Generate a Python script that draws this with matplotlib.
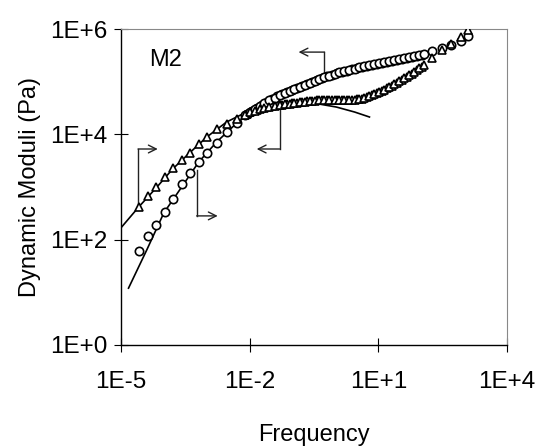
import numpy as np
import matplotlib
matplotlib.use("Agg")
import matplotlib.pyplot as plt

plt.rcParams['font.family'] = ['Liberation Sans', 'DejaVu Sans']

# shared frequencies of the measured points (first set)
freq = [2.6e-5, 4.2e-5, 6.5e-5, 1.05e-4, 1.6e-4, 2.6e-4, 4.0e-4, 6.5e-4, 1.0e-3,
        1.7e-3, 2.9e-3, 5.0e-3,
        7.7e-3, 1.0e-2, 1.3e-2, 1.7e-2, 2.2e-2, 2.9e-2, 3.8e-2, 5.0e-2, 6.5e-2,
        8.5e-2, 0.11, 0.15, 0.19, 0.25, 0.33, 0.42, 0.55, 0.72, 0.95, 1.24, 1.6,
        2.1, 2.8, 3.6, 4.7, 6.2, 8.1, 10.5, 13.8, 18, 23.5, 31, 40, 53, 69, 90,
        117, 180, 308, 500, 850, 1240]

# storage modulus G' (circles)
g_storage = [61, 118, 191, 337, 594, 1150, 1850, 2990, 4440, 6870, 11100, 16400,
             23300, 26600, 30300, 34600, 39400, 45000, 50100, 56000, 61100,
             66700, 72700, 79300, 86500, 94400, 103000, 112000, 123000, 131000,
             140000, 150000, 160000, 167000, 178000, 190000, 199000, 207000,
             217000, 226000, 237000, 247000, 258000, 270000, 282000, 294000,
             307000, 321000, 336000, 383000, 436000, 497000, 592000, 736000]

# loss modulus G'' (triangles)
g_loss = [419, 678, 1000, 1550, 2290, 3240, 4470, 6610, 8910, 12600, 15800, 19500,
          23300, 26600, 28400, 30300, 32400, 33800, 35300, 36100, 37700, 38600,
          39400, 41200, 42100, 43000, 44000, 45000, 45000, 45000, 45000, 45000,
          45000, 45000, 45900, 47000, 49100, 53600, 58400, 63800, 71100, 79300,
          90400, 103000, 117000, 134000, 153000, 182000, 207000, 282000, 400000,
          519000, 705000, 958000]

# overlapping second set in the middle of the master curve
freq_b = [8.75e-3, 0.0114, 0.0150, 0.0195, 0.0255, 0.0334, 0.0436, 0.0570,
          0.0745, 0.0974, 0.127, 0.166, 0.218, 0.284, 0.372, 0.486, 0.635,
          0.830, 1.08, 1.42, 1.85, 2.42, 3.16, 4.14, 5.41, 7.06, 9.23, 12.1,
          15.8, 20.6, 26.9, 35.2, 46.0, 60.2, 78.6, 103]
g_storage_b = [24900, 28400, 32400, 36900, 42100, 47500, 53000, 58500, 63800,
               69600, 75900, 82800, 90400, 98600, 107000, 117000, 127000,
               135000, 145000, 155000, 163000, 172000, 184000, 194000, 203000,
               212000, 221000, 231000, 242000, 252000, 264000, 276000, 288000,
               300000, 314000, 328000]
g_loss_b = [24900, 27500, 29300, 31300, 33100, 34500, 35700, 36900, 38100,
            39000, 40300, 41600, 42500, 43500, 44500, 45000, 45000, 45000,
            45000, 45000, 45000, 45400, 46400, 48000, 51300, 55900, 61000,
            67300, 75100, 84700, 96500, 110000, 125000, 143000, 167000, 194000]

# model curves
fit_storage_f = [1.5e-5, 4.0e-5, 1.0e-4, 2.6e-4, 6.5e-4, 1.7e-3, 5.0e-3, 0.017,
                 0.05, 0.145, 0.42, 1.6, 6.2]
fit_storage = [12, 64, 323, 1000, 2990, 7180, 16400, 34600, 56000, 79300,
               112000, 160000, 207000]
fit_loss_f = [1e-5, 2.6e-5, 6.9e-5, 1.6e-4, 4.0e-4, 1.0e-3, 2.9e-3, 8.5e-3,
              0.025, 0.072, 0.19, 0.42, 1.05, 2.8, 6.2]
fit_loss = [168, 419, 1000, 2200, 4470, 8910, 17200, 26600, 34600, 39400,
            40300, 37700, 33100, 26600, 21400]

# bracket arrows: (start, corner, arrow tip)
brackets = [
    [(2.5e-5, 457), (2.5e-5, 5280), (7.2e-5, 5280)],
    [(5.8e-4, 2110), (5.8e-4, 283), (1.8e-3, 283)],
    [(0.05, 29000), (0.05, 5280), (0.0146, 5280)],
    [(0.555, 134000), (0.555, 366000), (0.138, 366000)],
]

x_ticks = [1e-5, 1e-2, 1e1, 1e4]
x_labels = ['1E-5', '1E-2', '1E+1', '1E+4']
y_ticks = [1e0, 1e2, 1e4, 1e6]
y_labels = ['1E+0', '1E+2', '1E+4', '1E+6']

fig = plt.figure(figsize=(5.4, 4.48), dpi=100)
ax = fig.add_axes([0.224, 0.23, 0.715, 0.705])

ax.plot(fit_storage_f, fit_storage, color='black', lw=1.2, zorder=2)
ax.plot(fit_loss_f, fit_loss, color='black', lw=1.2, zorder=2)

mk = dict(mfc='white', mec='black', ms=6, mew=1.2, zorder=3, linestyle='none')
ax.plot(freq_b, g_storage_b, 'o', **mk)
ax.plot(freq_b, g_loss_b, '^', **mk)
ax.plot(freq, g_storage, 'o', **mk)
ax.plot(freq, g_loss, '^', **mk)

for (p0, p1, p2) in brackets:
    ax.plot([p0[0], p1[0]], [p0[1], p1[1]], color='#222222', lw=1.0)
    ax.annotate('', xy=p2, xytext=p1,
                arrowprops=dict(arrowstyle='->', color='#222222', lw=1.0,
                                mutation_scale=14, shrinkA=0, shrinkB=0))

ax.text(1.1e-4, 2.6e5, 'M2', fontsize=17, ha='center', va='center')

ax.set_xscale('log')
ax.set_yscale('log')
ax.set_xlim(1e-5, 1e4)
ax.set_ylim(1e0, 1e6)
ax.set_xticks(x_ticks)
ax.set_xticklabels(x_labels)
ax.set_yticks(y_ticks)
ax.set_yticklabels(y_labels)
ax.minorticks_off()
ax.tick_params(direction='inout', length=10, width=0.8, labelsize=17.5)
ax.tick_params(axis='x', pad=14)
ax.tick_params(axis='y', pad=5)

for s in ['left', 'bottom']:
    ax.spines[s].set_linewidth(1.0)
for s in ['top', 'right']:
    ax.spines[s].set_linewidth(0.8)
    ax.spines[s].set_color('#888888')

ax.set_xlabel('Frequency', fontsize=17, labelpad=22)
ax.set_ylabel('Dynamic Moduli (Pa)', fontsize=17, labelpad=6)

fig.savefig('out.png', dpi=100)
